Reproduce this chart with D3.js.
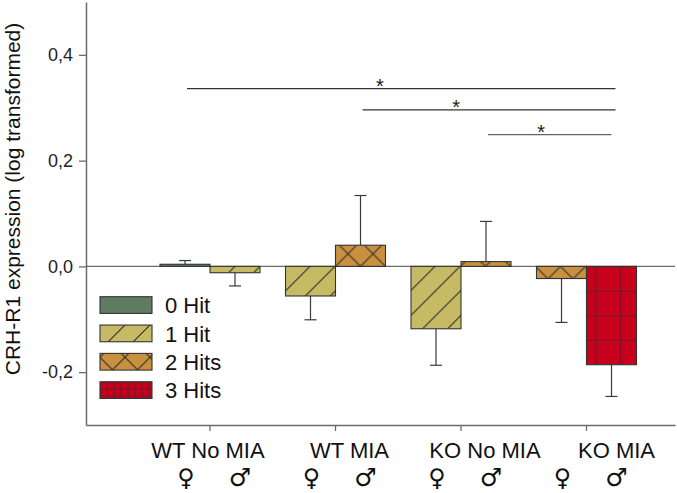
<!DOCTYPE html>
<html>
<head>
<meta charset="utf-8">
<script src="https://cdn.jsdelivr.net/npm/d3@7"></script>
<style>
  html, body { margin: 0; padding: 0; background: #fff; }
  svg { display: block; font-family: "Liberation Sans", Arial, sans-serif; }
</style>
</head>
<body>
<svg id="chart" width="677" height="493"></svg>
<script>
// ---- data ----
const groups = ["WT No MIA", "WT MIA", "KO No MIA", "KO MIA"];
const sexes = ["F", "M"];
const sexSymbols = ["\u2640", "\u2642"];
const hitLevels = ["0 Hit", "1 Hit", "2 Hits", "3 Hits"];
// values per group: [female, male]
const barValues = [[0.004, -0.012], [-0.056, 0.040], [-0.118, 0.009], [-0.023, -0.186]];
const barErrors = [[0.007, 0.025], [0.045, 0.094], [0.069, 0.076], [0.083, 0.060]];
const barHits = [[0, 1], [1, 2], [1, 2], [2, 3]];
const yTicks = [-0.2, 0.0, 0.2, 0.4];
// significance comparisons: [group, sex] -> [group, sex], at y value
const sigFrom = [[0, 0], [1, 1], [2, 1]];
const sigTo = [[3, 1], [3, 1], [3, 1]];
const sigY = [0.336, 0.296, 0.249];
const sigLabel = ["*", "*", "*"];

// ---- styles ----
const hitColors = ["#5f7b60", "#c6bb64", "#c9913f", "#c9001c"];
const lineCol = "#2b2b2b";
const axisCol = "#6b6b6b";

const svg = d3.select("#chart");

// ---- scales ----
const y = d3.scaleLinear().domain([-0.3, 0.5]).range([425, 2]);
const x = d3.scaleBand().domain(groups).range([86, 675])
  .paddingInner(0).paddingOuter(0.3466).align(0.704);
const xs = d3.scaleBand().domain(sexes).range([0, x.bandwidth()])
  .paddingInner(0).paddingOuter(0.255);

// ---- patterns ----
const defs = svg.append("defs");
function pat(id, w, h, ox, oy, bg, draw) {
  const p = defs.append("pattern").attr("id", id)
    .attr("patternUnits", "userSpaceOnUse")
    .attr("width", w).attr("height", h)
    .attr("x", ox).attr("y", oy);
  p.append("rect").attr("width", w).attr("height", h).attr("fill", bg);
  draw(p, w, h);
}
const pl = (p, x1, y1, x2, y2) => p.append("line")
  .attr("x1", x1).attr("y1", y1).attr("x2", x2).attr("y2", y2)
  .attr("stroke", lineCol).attr("stroke-width", 1.1);

function makePatterns(prefix, size, gridSize) {
  pat(prefix + "0", size, size, 0, 0, hitColors[0], () => {});
  pat(prefix + "1", size, size, 0, 0, hitColors[1], (p, w, h) => {
    pl(p, 0, h, w, 0); pl(p, -1, 1, 1, -1); pl(p, w - 1, h + 1, w + 1, h - 1);
  });
  pat(prefix + "2", size, size, 0, 0, hitColors[2], (p, w, h) => {
    pl(p, 0, h, w, 0); pl(p, 0, 0, w, h);
  });
  pat(prefix + "3", gridSize, gridSize, 0, 0, hitColors[3], (p, w, h) => {
    pl(p, 0, 0, 0, h); pl(p, 0, 0, w, 0);
  });
}
makePatterns("hit", 25, 24.5);
makePatterns("leg", 25, 6.9);
defs.select("#hit3").attr("x", 595.7 % 24.5).attr("y", y(0) % 24.5);
defs.select("#hit2").attr("x", (x("WT MIA") + xs("M")) % 25).attr("y", y(0) % 25);
defs.select("#hit1").attr("x", (x(groups[0]) + xs("M")) % 25).attr("y", y(0) % 25);
defs.select("#leg1").attr("x", 100 % 25).attr("y", 325 % 25);
defs.select("#leg2").attr("x", 100 % 25).attr("y", 353.3 % 25 + 4);
defs.select("#leg3").attr("x", 100 % 6.9).attr("y", 381.7 % 6.9);

// ---- flatten bars ----
const bars = [];
groups.forEach((g, gi) => sexes.forEach((s, si) => {
  bars.push({ g, s, gi, si, v: barValues[gi][si], e: barErrors[gi][si], hit: barHits[gi][si] });
}));
const cx = (gi, si) => x(groups[gi]) + xs(sexes[si]) + xs.bandwidth() / 2;

// ---- error bars ----
const eb = svg.append("g").attr("stroke", "#3a3a3a").attr("stroke-width", 1.2);
bars.forEach(b => {
  const c = cx(b.gi, b.si);
  const end = b.v >= 0 ? b.v + b.e : b.v - b.e;
  eb.append("line").attr("x1", c).attr("x2", c).attr("y1", y(b.v)).attr("y2", y(end));
  eb.append("line").attr("x1", c - 6).attr("x2", c + 6).attr("y1", y(end)).attr("y2", y(end));
});

// ---- zero line ----
svg.append("line").attr("x1", 86).attr("x2", 675).attr("y1", y(0)).attr("y2", y(0))
  .attr("stroke", axisCol).attr("stroke-width", 1.3);

// ---- bars ----
svg.append("g").selectAll("rect").data(bars).join("rect")
  .attr("x", d => x(d.g) + xs(d.s))
  .attr("width", xs.bandwidth())
  .attr("y", d => y(Math.max(0, d.v)))
  .attr("height", d => Math.abs(y(d.v) - y(0)))
  .attr("fill", d => `url(#hit${d.hit})`)
  .attr("stroke", "#333").attr("stroke-width", 1.1);

// ---- axes ----
const yAxis = svg.append("g").attr("transform", "translate(86,0)")
  .call(d3.axisLeft(y).tickValues(yTicks).tickSize(7).tickSizeOuter(0).tickPadding(6)
    .tickFormat(d => d3.format(".1f")(d).replace(".", ",").replace("\u2212", "-")));
yAxis.select(".domain").attr("stroke", axisCol).attr("stroke-width", 1.5);
yAxis.selectAll(".tick line").attr("stroke", axisCol).attr("stroke-width", 1.3);
yAxis.selectAll(".tick text").attr("font-size", 18).attr("fill", "#222")
  .attr("font-family", "Liberation Sans, Arial, sans-serif");

const xAxis = svg.append("g").attr("transform", "translate(0,425)")
  .call(d3.axisBottom(x).tickSize(6).tickSizeOuter(0).tickFormat(""));
xAxis.select(".domain").attr("stroke", axisCol).attr("stroke-width", 1.5);
xAxis.selectAll(".tick line").attr("stroke", axisCol).attr("stroke-width", 1.3);

// group labels
const labelShift = [-2, 14, 24, 30];
svg.append("g").selectAll("text").data(groups).join("text")
  .attr("x", (d, i) => x(d) + x.bandwidth() / 2 + labelShift[i])
  .attr("y", 458)
  .attr("text-anchor", "middle").attr("font-size", 22).attr("fill", "#111")
  .text(d => d);

// sex symbols
svg.append("g").selectAll("text").data(bars).join("text")
  .attr("x", d => cx(d.gi, d.si) + (d.si === 0 ? 1 : 5))
  .attr("y", 486)
  .attr("text-anchor", "middle")
  .attr("font-family", "DejaVu Sans, sans-serif")
  .attr("font-size", d => d.si === 0 ? 24 : 25).attr("fill", "#111")
  .text(d => sexSymbols[d.si]);

// y title
svg.append("text")
  .attr("transform", "translate(20,199) rotate(-90)")
  .attr("text-anchor", "middle").attr("font-size", 21).attr("fill", "#111")
  .text("CRH-R1 expression (log transformed)");

// ---- significance ----
const sg = svg.append("g");
sigY.forEach((v, i) => {
  const x1 = cx(sigFrom[i][0], sigFrom[i][1]) + 2;
  const x2 = cx(sigTo[i][0], sigTo[i][1]) + (i === 2 ? 0 : 4);
  sg.append("line").attr("x1", x1).attr("x2", x2).attr("y1", y(v)).attr("y2", y(v))
    .attr("stroke", i === 2 ? "#666" : "#333").attr("stroke-width", 1.2);
  const frac = [0.45, 0.37, 0.43][i];
  sg.append("text").attr("x", x1 + (x2 - x1) * frac).attr("y", y(v) + 4)
    .attr("text-anchor", "middle").attr("font-size", 20).attr("fill", "#222")
    .text(sigLabel[i]);
});

// ---- legend ----
const lg = svg.append("g");
hitLevels.forEach((h, i) => {
  const ry = 296.7 + i * 28.35;
  lg.append("rect").attr("x", 100).attr("y", ry).attr("width", 52).attr("height", 16.7)
    .attr("fill", `url(#leg${i})`).attr("stroke", "#333").attr("stroke-width", 1.1);
  lg.append("text").attr("x", 165).attr("y", ry + 16.5)
    .attr("font-size", 22).attr("fill", "#111").text(h);
});
</script>
</body>
</html>
